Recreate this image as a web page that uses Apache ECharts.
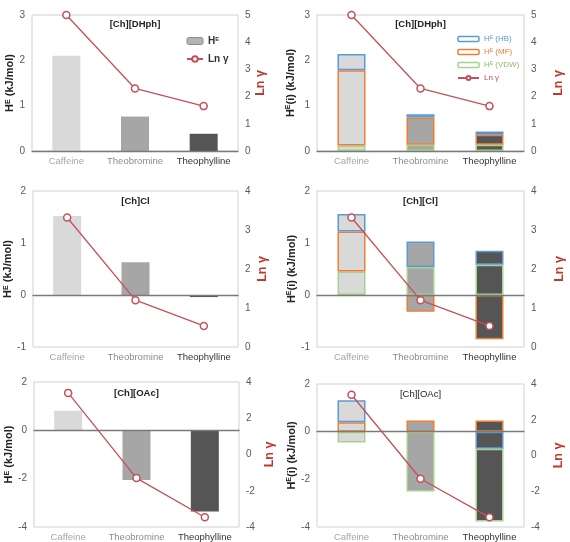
<!DOCTYPE html>
<html>
<head>
<meta charset="utf-8">
<script src="https://cdn.jsdelivr.net/npm/echarts@6/dist/echarts.min.js"></script>
<style>
html, body { margin: 0; padding: 0; background: #fff; }
#main { width: 570px; height: 542px; }
</style>
</head>
<body>
<div id="main"></div>
<script>
// 数据
var categories = ['Caffeine', 'Theobromine', 'Theophylline'];

// H^E totals (kJ/mol)
var heDHph = [2.1, 0.76, 0.38];
var heCl = [1.52, 0.63, -0.04];
var heOAc = [0.81, -2.06, -3.36];

// Ln gamma
var lnDHph = [5.0, 2.3, 1.65];
var lnCl = [3.32, 1.2, 0.54];
var lnOAc = [3.4, -1.3, -3.46];

// H^E(i) contributions
var hbDHph = [0.36, 0.07, 0.07];
var mfDHph = [1.66, 0.60, 0.22];
var vdwDHph = [0.12, 0.14, 0.14];

var hbCl = [0.34, 0.49, 0.27];
var mfCl = [0.77, -0.32, -0.85];
var vdwCl = [0.45, 0.54, 0.58];

var hbOAc = [0.93, 0, -0.72];
var mfOAc = [0.39, 0.47, 0.47];
var vdwOAc = [-0.45, -2.51, -3.05];

// axis ticks [min, max, interval]
var leftTicks = [[0, 3, 1], [0, 3, 1], [-1, 2, 1], [-1, 2, 1], [-4, 2, 2], [-4, 2, 2]];
var rightTicks = [[0, 5, 1], [0, 5, 1], [0, 4, 1], [0, 4, 1], [-4, 4, 2], [-4, 4, 2]];
var titles = ['[Ch][DHph]', '[Ch][DHph]', '[Ch]Cl', '[Ch][Cl]', '[Ch][OAc]', '[Ch][OAc]'];

// 样式
var font = 'Liberation Sans, Arial, sans-serif';
var red = '#c4505a';
var cHB = '#5b9bd5', cMF = '#ed7d31', cVDW = '#a9d18e';
var barColors = ['#d9d9d9', '#a6a6a6', '#555555'];
var labelColors = ['#a6a6a6', '#8c8c8c', '#333333'];

var grids = [
    { left: 32, top: 15, width: 206, height: 136 },
    { left: 317, top: 15, width: 207, height: 136 },
    { left: 33, top: 191, width: 205, height: 156 },
    { left: 317, top: 191, width: 207, height: 156 },
    { left: 34, top: 382, width: 205, height: 154 },
    { left: 317, top: 384, width: 207, height: 148 }
];
var leftGap = [16, 21, 17, 20, 17, 20];
var rightGap = [14, 28, 18, 29, 24, 28];
var titleTop = [19, 19, 196, 196, 388, 389];

// 0 值不画（避免在堆叠顶端多出一条边框）
function barItems(vals) {
    return vals.map(function (v, i) {
        return { value: v === 0 ? '-' : v, itemStyle: { color: barColors[i] } };
    });
}

function supFmt(name) {
    return name.replace('^E', '{s|E}');
}

var option = {
    animation: false,
    textStyle: { fontFamily: font },
    title: [],
    grid: [],
    xAxis: [],
    yAxis: [],
    series: [],
    legend: [
        {
            left: 186, top: 36, orient: 'vertical', padding: 0,
            itemWidth: 16, itemHeight: 7, itemGap: 8, selectedMode: false,
            data: [
                { name: 'H^E', itemStyle: { color: '#b3b3b3', borderColor: '#8c8c8c', borderWidth: 1 } },
                { name: 'Ln γ' }
            ],
            formatter: supFmt,
            textStyle: {
                fontSize: 10, fontWeight: 'bold', color: '#333', fontFamily: font,
                rich: { s: { fontSize: 6, fontWeight: 'bold', verticalAlign: 'top', fontFamily: font } }
            }
        },
        {
            left: 457, top: 35, orient: 'vertical', padding: 0,
            itemWidth: 21, itemHeight: 5, itemGap: 5, selectedMode: false,
            data: [
                { name: 'H^E (HB)', itemStyle: { color: '#fff', borderColor: cHB, borderWidth: 1.5 }, textStyle: { color: cHB } },
                { name: 'H^E (MF)', itemStyle: { color: '#fff', borderColor: cMF, borderWidth: 1.5 }, textStyle: { color: cMF } },
                { name: 'H^E (VDW)', itemStyle: { color: '#fff', borderColor: cVDW, borderWidth: 1.5 }, textStyle: { color: '#8fbc6a' } },
                { name: 'Ln γ', textStyle: { color: red } }
            ],
            formatter: supFmt,
            textStyle: {
                fontSize: 8, fontFamily: font,
                rich: { s: { fontSize: 5, verticalAlign: 'top', fontFamily: font } }
            }
        }
    ]
};

grids.forEach(function (g, i) {
    option.grid.push({
        left: g.left, top: g.top, width: g.width, height: g.height,
        show: true, borderColor: '#d0d0d0', borderWidth: 1, backgroundColor: 'transparent'
    });
    option.title.push({
        text: titles[i], left: g.left + g.width / 2, top: titleTop[i], textAlign: 'center', padding: 0,
        textStyle: { fontSize: 9.5, fontWeight: i === 5 ? 'normal' : 'bold', color: '#222', fontFamily: font }
    });
    option.xAxis.push({
        type: 'category', gridIndex: i, data: categories, z: 3,
        axisLine: { onZero: true, onZeroAxisIndex: i * 2, lineStyle: { color: '#7a7a7a', width: 1.3 } },
        axisTick: { show: false },
        axisLabel: {
            interval: 0, fontSize: 9.5, margin: 5, fontFamily: font,
            color: function (v) { return labelColors[categories.indexOf(v)]; }
        }
    });
    var lt = leftTicks[i], rt = rightTicks[i];
    option.yAxis.push({
        type: 'value', gridIndex: i, position: 'left',
        min: lt[0], max: lt[1], interval: lt[2],
        name: (i % 2 === 0) ? 'H{s|E} (kJ/mol)' : 'H{s|E}(i) (kJ/mol)',
        nameLocation: 'middle', nameGap: leftGap[i],
        nameTextStyle: {
            fontSize: 11, fontWeight: 'bold', color: '#222', fontFamily: font,
            rich: { s: { fontSize: 7, fontWeight: 'bold', verticalAlign: 'top', fontFamily: font } }
        },
        axisLine: { show: false }, axisTick: { show: false }, splitLine: { show: false },
        axisLabel: { fontSize: 10, color: '#595959', margin: 7, fontFamily: font }
    });
    option.yAxis.push({
        type: 'value', gridIndex: i, position: 'right',
        min: rt[0], max: rt[1], interval: rt[2],
        name: 'Ln γ', nameLocation: 'middle', nameGap: rightGap[i],
        nameTextStyle: { fontSize: 12.5, fontWeight: 'bold', color: '#c0392b', fontFamily: font },
        axisLine: { show: false }, axisTick: { show: false }, splitLine: { show: false },
        axisLabel: { fontSize: 10, color: '#595959', margin: 7, fontFamily: font }
    });
});

// 左列：总 H^E
[heDHph, heCl, heOAc].forEach(function (vals, k) {
    var gi = k * 2;
    option.series.push({
        name: 'H^E', type: 'bar', xAxisIndex: gi, yAxisIndex: gi * 2,
        barWidth: 28, itemStyle: { color: '#b3b3b3' }, data: barItems(vals)
    });
});

// 右列：分量堆叠
var compSets = [
    { gi: 1, order: [['H^E (VDW)', vdwDHph, cVDW], ['H^E (MF)', mfDHph, cMF], ['H^E (HB)', hbDHph, cHB]] },
    { gi: 3, order: [['H^E (VDW)', vdwCl, cVDW], ['H^E (MF)', mfCl, cMF], ['H^E (HB)', hbCl, cHB]] },
    { gi: 5, order: [['H^E (MF)', mfOAc, cMF], ['H^E (HB)', hbOAc, cHB], ['H^E (VDW)', vdwOAc, cVDW]] }
];
compSets.forEach(function (set) {
    set.order.forEach(function (c) {
        option.series.push({
            name: c[0], type: 'bar', stack: 'comp' + set.gi,
            xAxisIndex: set.gi, yAxisIndex: set.gi * 2, barWidth: 28,
            itemStyle: { color: '#fff', borderColor: c[2], borderWidth: 1.5 },
            data: barItems(c[1])
        });
    });
});

// Ln γ 折线
[lnDHph, lnDHph, lnCl, lnCl, lnOAc, lnOAc].forEach(function (vals, gi) {
    option.series.push({
        name: 'Ln γ', type: 'line', xAxisIndex: gi, yAxisIndex: gi * 2 + 1, z: 5,
        symbol: 'circle', symbolSize: 7,
        itemStyle: { color: '#fff', borderColor: red, borderWidth: 1.5 },
        lineStyle: { color: red, width: 1.3 },
        data: vals
    });
});

var myChart = echarts.init(document.getElementById('main'));
myChart.setOption(option);
</script>
</body>
</html>
